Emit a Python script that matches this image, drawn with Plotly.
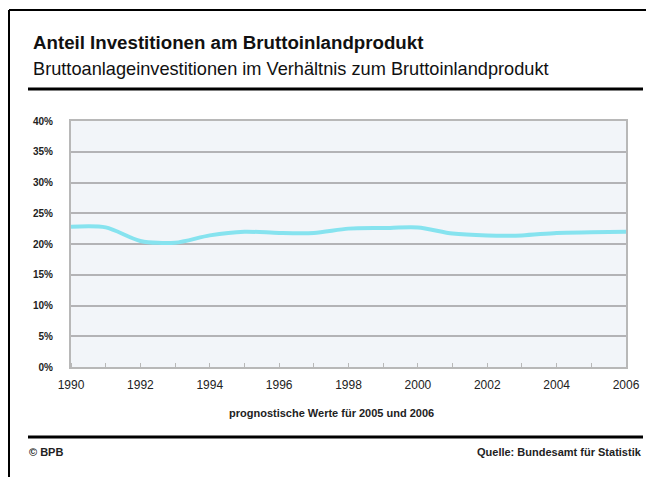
import plotly.graph_objects as go

years = list(range(1990, 2007))
share = [22.8, 22.7, 20.5, 20.2, 21.4, 22.0, 21.8, 21.8, 22.5, 22.6, 22.7,
         21.7, 21.4, 21.4, 21.8, 21.9, 22.0]
ytick_vals = [0, 5, 10, 15, 20, 25, 30, 35, 40]
ytick_text = ["0%", "5%", "10%", "15%", "20%", "25%", "30%", "35%", "40%"]
xtick_vals = [1990, 1992, 1994, 1996, 1998, 2000, 2002, 2004, 2006]

title = "Anteil Investitionen am Bruttoinlandprodukt"
subtitle = "Bruttoanlageinvestitionen im Verhältnis zum Bruttoinlandprodukt"
note = "prognostische Werte für 2005 und 2006"
credit = "© BPB"
source = "Quelle: Bundesamt für Statistik"

# page body has an 8px margin, so work in screen coordinates and shift
OFF = 8
W, H = 654 - OFF, 477 - OFF
L, R, T, B = 71 - OFF, 626 - OFF, 121 - OFF, 367 - OFF

def px(x):
    return (x - OFF - L) / (R - L)

def py(y):
    return (B - (y - OFF)) / (B - T)

FONT = "Liberation Sans, Arial"

fig = go.Figure()
fig.add_trace(go.Scatter(
    x=years, y=share, mode="lines",
    line=dict(color="#86e3ef", width=4, shape="spline", smoothing=0.8),
    hoverinfo="x+y", showlegend=False,
))

fig.update_layout(
    width=W, height=H,
    margin=dict(l=L, r=W - R, t=T, b=H - B, pad=0),
    paper_bgcolor="white",
    plot_bgcolor="#f2f5f9",
    font=dict(family=FONT, color="#111"),
    xaxis=dict(
        range=[1990, 2006], tickvals=xtick_vals, ticks="",
        showgrid=False, zeroline=False,
        showline=True, linecolor="#b8b8b8", linewidth=2, mirror=True,
        tickfont=dict(size=12, family=FONT, color="#222"),
        ticklabelstandoff=6,
        minor=dict(dtick=1, ticks="inside", ticklen=4, tickcolor="#b8b8b8", showgrid=False),
    ),
    yaxis=dict(
        range=[0, 40], tickvals=ytick_vals, ticktext=ytick_text,
        showgrid=True, gridcolor="#b3b3b6", gridwidth=2,
        zeroline=False,
        showline=True, linecolor="#b8b8b8", linewidth=2, mirror=True,
        tickfont=dict(size=10, family=FONT, color="#222", weight="bold"),
        ticks="", ticklabelstandoff=14,
    ),
    shapes=[
        dict(type="line", xref="paper", yref="paper", x0=px(9), x1=px(660), y0=py(10), y1=py(10),
             line=dict(color="black", width=2)),
        dict(type="line", xref="paper", yref="paper", x0=px(9), x1=px(9), y0=py(10), y1=py(490),
             line=dict(color="black", width=2)),
        dict(type="line", xref="paper", yref="paper", x0=px(28), x1=px(643), y0=py(89), y1=py(89),
             line=dict(color="black", width=3)),
        dict(type="line", xref="paper", yref="paper", x0=px(28), x1=px(643), y0=py(437), y1=py(437),
             line=dict(color="black", width=3)),
    ],
    annotations=[
        dict(text=title, xref="paper", yref="paper", x=px(31), y=py(43), xanchor="left", yanchor="middle",
             showarrow=False, font=dict(size=18.7, family=FONT, color="#111", weight="bold")),
        dict(text=subtitle, xref="paper", yref="paper", x=px(31), y=py(69), xanchor="left", yanchor="middle",
             showarrow=False, font=dict(size=18.2, family=FONT, color="#111")),
        dict(text=note, xref="paper", yref="paper", x=px(331), y=py(413), xanchor="center", yanchor="middle",
             showarrow=False, font=dict(size=11, family=FONT, color="#222", weight="bold")),
        dict(text=credit, xref="paper", yref="paper", x=px(27), y=py(452), xanchor="left", yanchor="middle",
             showarrow=False, font=dict(size=11, family=FONT, color="#222", weight="bold")),
        dict(text=source, xref="paper", yref="paper", x=px(644), y=py(452), xanchor="right", yanchor="middle",
             showarrow=False, font=dict(size=11, family=FONT, color="#222", weight="bold")),
    ],
)

fig.write_html("out.html")
